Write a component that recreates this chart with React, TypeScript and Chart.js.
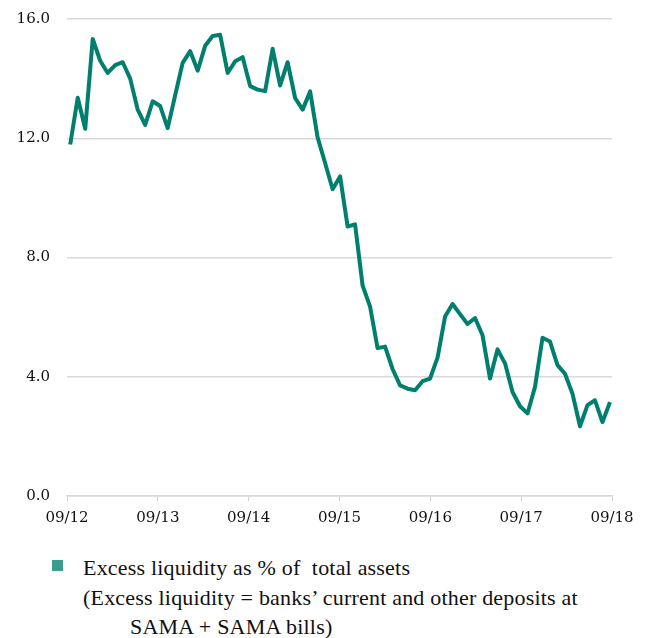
import React, { useEffect, useRef } from "react";
import { Chart, registerables } from "chart.js";

Chart.register(...registerables);

const tickLabels = ["09/12", "09/13", "09/14", "09/15", "09/16", "09/17", "09/18"];

// Monthly values, 09/2012 .. 09/2018
const excessLiquidity = [
  11.79, 13.36, 12.32, 15.33, 14.6, 14.19, 14.45, 14.55, 14.0, 12.96, 12.45, 13.24,
  13.08, 12.34, 13.44, 14.53, 14.92, 14.27, 15.1, 15.43, 15.47, 14.19, 14.58, 14.72,
  13.75, 13.63, 13.58, 15.0, 13.77, 14.55, 13.35, 12.96, 13.57, 12.03, 11.17, 10.29,
  10.72, 9.04, 9.11, 7.06, 6.35, 4.96, 5.01, 4.26, 3.71, 3.6, 3.55, 3.85,
  3.94, 4.64, 6.02, 6.44, 6.1, 5.77, 5.97, 5.39, 3.94, 4.92, 4.45, 3.49,
  3.01, 2.77, 3.66, 5.31, 5.18, 4.39, 4.1, 3.43, 2.34, 3.05, 3.21, 2.48,
  3.15,
];

const legendLines = [
  "Excess liquidity as % of  total assets",
  "(Excess liquidity = banks\u2019 current and other deposits at",
  "SAMA + SAMA bills)",
];

const X_MIN = -0.43;
const X_MAX = 72.27;

const LINE_COLOR = "#007f6e";
const LEGEND_COLOR = "#3a9c8f";
const TICK_FONT = '"DejaVu Serif", "Liberation Serif", serif';

export default function App() {
  const ref = useRef<HTMLCanvasElement | null>(null);

  useEffect(() => {
    if (!ref.current) return;
    let alive = true;
    const points = excessLiquidity.map((v, i) => ({ x: i, y: v }));
    const step = (X_MAX - X_MIN) / (tickLabels.length - 1);
    const chart = new Chart(ref.current, {
      type: "line",
      data: {
        datasets: [
          {
            label: legendLines[0],
            data: points,
            borderColor: LINE_COLOR,
            backgroundColor: LINE_COLOR,
            borderWidth: 4,
            pointRadius: 0,
            tension: 0,
            borderJoinStyle: "round",
            clip: false as any,
          },
        ],
      },
      options: {
        animation: false,
        responsive: false,
        maintainAspectRatio: false,
        layout: { padding: { left: 0, right: 35, top: 19, bottom: 0 } },
        plugins: {
          legend: { display: false },
          tooltip: { enabled: false },
        },
        scales: {
          x: {
            type: "linear",
            min: X_MIN,
            max: X_MAX,
            afterFit: (s: any) => {
              s.height = 44;
              s.paddingLeft = 0;
              s.paddingRight = 0;
            },
            afterBuildTicks: (s: any) => {
              s.ticks = tickLabels.map((_, i) => ({ value: X_MIN + i * step }));
            },
            ticks: {
              autoSkip: false,
              maxRotation: 0,
              padding: 8,
              color: "#111",
              font: { family: TICK_FONT, size: 15 },
              callback: (v: any) =>
                tickLabels[Math.round((Number(v) - X_MIN) / step)] ?? "",
            },
            grid: {
              drawOnChartArea: false,
              drawTicks: true,
              tickLength: 5,
              color: "#d0d0d0",
            },
            border: { display: true, color: "#d9d9d9", width: 1.5 },
          },
          y: {
            min: 0,
            max: 16,
            afterFit: (s: any) => {
              s.width = 67;
              s.paddingTop = 0;
              s.paddingBottom = 0;
            },
            ticks: {
              stepSize: 4,
              padding: 17,
              color: "#111",
              font: { family: TICK_FONT, size: 15 },
              callback: (v: any) => Number(v).toFixed(1),
            },
            grid: {
              drawTicks: false,
              color: "#d9d9d9",
              lineWidth: 1.5,
            },
            border: { display: false },
          },
        },
      },
    });

    const fonts: any = (document as any).fonts;
    if (fonts && fonts.ready) {
      fonts.ready.then(() => {
        if (alive) chart.update();
      });
    }

    return () => {
      alive = false;
      chart.destroy();
    };
  }, []);

  return (
    <div
      style={{
        position: "fixed",
        left: 0,
        top: 0,
        width: 647,
        height: 638,
        overflow: "hidden",
        background: "#fff",
      }}
    >
      <span
        style={{
          position: "absolute",
          left: -1000,
          top: 0,
          fontFamily: TICK_FONT,
          fontSize: 15,
        }}
      >
        0123456789./
      </span>
      <canvas ref={ref} width={647} height={540} style={{ display: "block" }} />
      <div
        style={{
          position: "absolute",
          left: 52,
          top: 560,
          width: 11,
          height: 11,
          background: LEGEND_COLOR,
        }}
      />
      <div
        style={{
          position: "absolute",
          left: 83,
          top: 553,
          fontFamily: "Liberation Serif",
          fontSize: 22,
          letterSpacing: "0.2px",
          lineHeight: "29.7px",
          color: "#111",
          whiteSpace: "pre",
        }}
      >
        <div>{legendLines[0]}</div>
        <div>{legendLines[1]}</div>
        <div style={{ paddingLeft: 47 }}>{legendLines[2]}</div>
      </div>
    </div>
  );
}
